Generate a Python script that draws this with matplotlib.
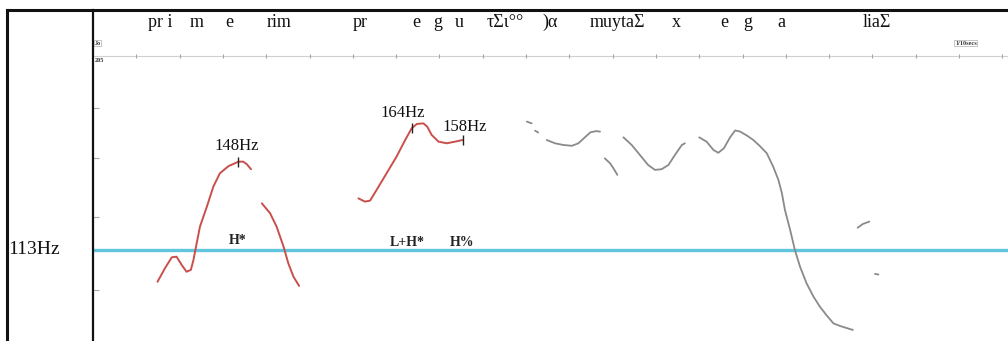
import matplotlib
matplotlib.use("Agg")
import matplotlib.pyplot as plt
from matplotlib.lines import Line2D
from matplotlib.ticker import NullLocator, NullFormatter

plt.rcParams['font.family'] = ['Liberation Serif', 'DejaVu Serif']

# ---------------------------------------------------------------
# data: time (s) and f0 (Hz) read off the pitch track
# ---------------------------------------------------------------
baseline_hz = 113
top_ref_hz = 205

# red (annotated) contours
red1_t = [0.149, 0.166, 0.182, 0.193, 0.205, 0.216, 0.226, 0.232, 0.238, 0.247,
          0.263, 0.278, 0.293, 0.313, 0.336, 0.347, 0.355, 0.365]
red1_hz = [102.5, 106.8, 110.5, 110.7, 107.9, 105.7, 106.3, 109.6, 114.2, 121.4,
           129.1, 137.3, 143.0, 146.2, 148.2, 148.2, 147.1, 144.8]

red2_t = [0.390, 0.409, 0.424, 0.440, 0.451, 0.463, 0.476]
red2_hz = [130.4, 126.5, 121.4, 114.2, 108.5, 104.1, 101.2]

red3_t = [0.613, 0.628, 0.640, 0.655, 0.678, 0.701, 0.721, 0.736, 0.748, 0.763,
          0.772, 0.782, 0.798, 0.817, 0.836, 0.854]
red3_hz = [132.4, 131.1, 131.5, 135.9, 143.0, 150.5, 158.4, 164.2, 166.4, 166.7,
           165.0, 160.9, 157.6, 156.8, 157.6, 158.4]

# grey (unannotated) contours
grey_segments_t = [
    [1.002, 1.013],
    [1.021, 1.028],
    [1.048, 1.067, 1.086, 1.106, 1.121, 1.136, 1.149, 1.163, 1.171],
    [1.182, 1.194, 1.202, 1.211],
    [1.225, 1.244, 1.263, 1.282, 1.298, 1.313, 1.329, 1.344, 1.360, 1.367],
    [1.400, 1.417, 1.433, 1.444, 1.457, 1.471, 1.483, 1.494, 1.510, 1.525,
     1.540, 1.556, 1.571, 1.583, 1.591, 1.598, 1.610, 1.621, 1.633, 1.648,
     1.664, 1.679, 1.694, 1.710, 1.725, 1.741, 1.755],
    [1.766, 1.778, 1.793],
    [1.806, 1.814],
]
grey_segments_hz = [
    [167.6, 166.7],
    [163.0, 162.1],
    [158.4, 156.8, 156.0, 155.6, 156.8, 159.7, 162.2, 162.8, 162.5],
    [149.7, 147.5, 145.2, 142.3],
    [159.7, 156.0, 151.3, 146.7, 144.5, 144.8, 146.7, 151.3, 156.0, 156.8],
    [159.7, 157.6, 153.6, 152.3, 154.4, 159.6, 163.1, 162.6, 160.6, 158.4,
     155.5, 152.1, 145.9, 140.1, 134.5, 127.8, 120.2, 113.0, 107.3, 102.0,
     97.9, 94.9, 92.5, 90.2, 89.5, 88.9, 88.4],
    [121.0, 122.4, 123.3],
    [105.0, 104.8],
]

# peak values marked on the track
peak_labels = ['148Hz', '164Hz', '158Hz']
peak_t = [0.336, 0.736, 0.854]
peak_hz = [148.2, 164.2, 158.4]
peak_label_t = [0.333, 0.716, 0.859]
peak_label_hz = [155.5, 172.1, 164.9]

# ToBI tones
tone_labels = ['H*', 'L+H*', 'H%']
tone_t = [0.333, 0.725, 0.852]
tone_hz = [116.2, 115.6, 115.6]

# transcription tier
words = ['pr i', 'm', 'e', 'rim', 'pr', 'e', 'g', 'u', 'τΣι°°', ')α',
         'muytaΣ', 'x', 'e', 'g', 'a', 'liaΣ']
word_t = [0.127, 0.224, 0.305, 0.402, 0.600, 0.737, 0.785, 0.836, 0.910, 1.037,
          1.148, 1.337, 1.448, 1.501, 1.580, 1.778]

grid_ticks_t = [0.1 * i for i in range(1, 22)]
left_ticks_hz = [100, 125, 150, 175]

# ---------------------------------------------------------------
red = '#c94f4b'
grey = '#8a8a8a'
cyan = '#5fc6dd'

fig = plt.figure(figsize=(10.08, 3.41), dpi=100)
ax = fig.add_axes([93 / 1008, 0, 915 / 1008, 331 / 341])

ax.set_yscale('log')
ax.set_xlim(0, 915 / 433)
ax.set_ylim(85.45, 236.1)

# reference lines
ax.axhline(baseline_hz, color=cyan, lw=2.4, zorder=1)
ax.axhline(top_ref_hz, color='#d0d0d0', lw=0.8, zorder=1)
ax.plot(grid_ticks_t, [top_ref_hz] * len(grid_ticks_t), ls='none', marker='|',
        ms=3, mew=0.8, color='#a5a5a5')

# contours
for tt, hh in [(red1_t, red1_hz), (red2_t, red2_hz), (red3_t, red3_hz)]:
    ax.plot(tt, hh, color=red, lw=1.4, solid_capstyle='round',
            solid_joinstyle='round')
for tt, hh in zip(grey_segments_t, grey_segments_hz):
    ax.plot(tt, hh, color=grey, lw=1.3, solid_capstyle='round',
            solid_joinstyle='round')

# peak marks and labels
ax.plot(peak_t, peak_hz, ls='none', marker='|', ms=7, mew=1.0, color='#222222')
for lab, x, y in zip(peak_labels, peak_label_t, peak_label_hz):
    ax.text(x, y, lab, ha='center', va='center', fontsize=12, color='#111111')

for lab, x, y in zip(tone_labels, tone_t, tone_hz):
    ax.text(x, y, lab, ha='center', va='center', fontsize=10,
            fontweight='bold', color='#222222')

# transcription tier
tier = ax.get_xaxis_transform()
for w, x in zip(words, word_t):
    ax.text(x, 0.962, w, transform=tier, ha='left', va='center', fontsize=13,
            color='#111111')

ax.text(0.003, 0.900, 'Jo', transform=tier, ha='left', va='center', fontsize=4.5,
        fontweight='bold', color='#333333',
        bbox=dict(boxstyle='square,pad=0.1', fc='white', ec='#999999', lw=0.4))
ax.text(0.003, 0.848, '205', transform=tier, ha='left', va='center', fontsize=4.5,
        fontweight='bold', color='#333333')
ax.text(1.991, 0.900, '1/10secs', transform=tier, ha='left', va='center',
        fontsize=4.5, fontweight='bold', color='#333333',
        bbox=dict(boxstyle='square,pad=0.1', fc='white', ec='#999999', lw=0.4))

# axis cosmetics
ax.yaxis.set_minor_locator(NullLocator())
ax.yaxis.set_minor_formatter(NullFormatter())
ax.set_yticks(left_ticks_hz)
ax.set_yticklabels([])
ax.tick_params(axis='y', direction='in', length=4, width=0.8, color='#aaaaaa')
ax.set_xticks([])
for side in ['top', 'right', 'bottom']:
    ax.spines[side].set_visible(False)
ax.spines['left'].set_linewidth(1.6)
ax.spines['left'].set_color('#111111')

# outer frame and left label
fig.add_artist(Line2D([7 / 1008, 1], [331 / 341, 331 / 341], color='#111111', lw=2.2))
fig.add_artist(Line2D([7 / 1008, 7 / 1008], [0, 331 / 341], color='#111111', lw=2.2))
fig.text(8 / 1008, 1 - 250 / 341, '113Hz', ha='left', va='center', fontsize=14,
         color='#111111')

fig.savefig('out.png', dpi=100)
